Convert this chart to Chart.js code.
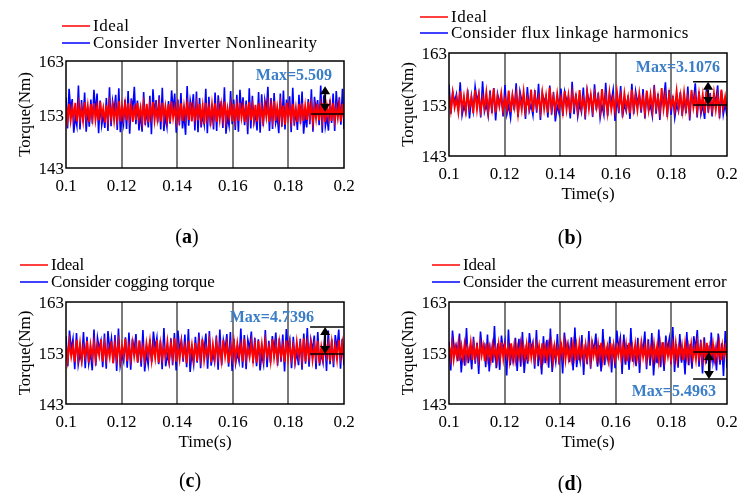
<!DOCTYPE html>
<html lang="en">
<head>
<meta charset="UTF-8">
<title>Torque comparison</title>
<script src="https://cdn.jsdelivr.net/npm/chart.js@4.4.1/dist/chart.umd.min.js"></script>
<style>
    body { margin: 0; background: #fff; }
    #fig { position: relative; width: 746px; height: 493px; }
    canvas { position: absolute; left: 0; top: 0; }
    .tag { position: absolute; font: 20px 'Liberation Serif', serif; transform: translate(-50%, -50%); color: #000; }
</style>
</head>
<body>
<div id="fig">
    <canvas id="chartA" width="746" height="493"></canvas>
    <canvas id="chartB" width="746" height="493"></canvas>
    <canvas id="chartC" width="746" height="493"></canvas>
    <canvas id="chartD" width="746" height="493"></canvas>
    <div class="tag" style="left:187px;top:236px">(<b>a</b>)</div>
    <div class="tag" style="left:570px;top:237px">(<b>b</b>)</div>
    <div class="tag" style="left:190px;top:480px">(<b>c</b>)</div>
    <div class="tag" style="left:570px;top:483px">(<b>d</b>)</div>
</div>
<script>
const timeStart = 0.1
const timeEnd = 0.2
const xTicks = [0.1, 0.12, 0.14, 0.16, 0.18, 0.2]
const xTickLabels = ['0.1', '0.12', '0.14', '0.16', '0.18', '0.2']
const yTicks = [143, 153, 163]
const yTickLabels = ['143', '153', '163']

const idealLabel = 'Ideal'
const otherLabels = ['Consider Inverter Nonlinearity', 'Consider flux linkage harmonics', 'Consider cogging torque', 'Consider the current measurement error']
const maxLabels = ['Max=5.509', 'Max=3.1076', 'Max=4.7396', 'Max=5.4963']

// (a) inverter nonlinearity
const idealA = [
154.6,152.1,155.0,151.9,154.3,152.4,155.2,151.7,154.8,152.2,
154.1,151.8,155.3,152.5,154.7,151.6,154.9,152.3,155.1,152.0,
154.4,151.9,155.4,152.6,154.2,151.5,154.8,152.1,155.0,152.4,
154.6,151.8,154.3,152.2,155.5,151.7,154.7,152.5,154.9,151.9,
155.1,152.3,154.5,151.6,154.8,152.0,155.2,152.4,154.3,151.8,
154.9,152.2,155.0,151.5,154.6,152.6,155.3,151.9,154.4,152.1,
154.8,151.7,155.2,152.3,154.5,152.0,154.9,151.6,155.4,152.4,
154.2,151.9,154.7,152.2,155.1,151.8,154.6,152.5,154.9,152.0,
155.3,151.7,154.4,152.3,154.8,151.9,155.0,152.1,154.6,151.2,
155.2,152.4,154.3,151.8,154.9,152.2,155.1,151.6,154.5,152.0,
154.8,152.3,155.4,151.9,154.2,152.5,154.7,151.7,155.0,152.1,
154.6,151.8,155.2,152.4,154.4,151.6,154.9,152.2,155.3,151.9,
154.5,152.0,154.8,151.7,155.1,152.3,154.3,151.9,154.7,152.5,
155.0,151.6,154.6,152.1,155.5,151.8,154.4,152.2,154.9,152.0,
154.7,151.1,155.2,152.4,154.5,151.9,155.0,152.1,154.3,151.6,
154.9,152.3,155.1,151.8,154.6,152.0,155.3,152.5,154.8,151.7,
154.4,152.2,155.0,151.9,154.7,152.1,155.2,151.6,154.5,152.4,
154.9,151.8,155.1,152.0,154.3,152.3,154.8,151.7,155.0,152.2]
const inverterA = [
156.2,150.4,157.8,153.8,155.9,149.6,152.6,150.9,158.4,150.2,
155.7,151.5,157.1,149.8,154.1,150.7,155.8,151.3,157.6,153.2,
156.9,149.5,155.6,151.0,153.0,150.5,156.1,149.9,158.1,150.8,
155.5,153.6,156.7,150.1,157.9,149.7,152.8,151.1,155.8,150.3,
157.4,149.4,156.0,153.9,158.2,151.2,155.6,150.0,153.4,149.8,
157.2,151.0,154.0,150.6,156.5,149.3,157.7,152.9,155.7,151.5,
156.6,150.2,158.0,149.9,152.7,150.7,155.5,151.3,157.5,153.5,
156.9,149.6,155.8,151.0,157.0,150.4,153.1,149.2,158.3,150.9,
155.6,153.7,156.8,150.0,157.3,149.7,156.1,150.6,152.9,151.1,
157.8,149.5,156.3,150.8,154.2,150.2,157.1,149.9,156.6,153.4,
155.5,150.5,158.1,149.4,152.6,150.9,157.4,151.2,155.8,150.1,
156.7,149.8,157.6,153.3,156.2,151.0,155.6,149.3,157.9,150.4,
156.5,151.5,153.2,150.0,157.2,149.6,156.8,150.8,155.7,153.8,
158.2,149.9,156.1,150.3,157.0,151.4,152.8,149.5,156.9,150.7,
157.5,150.2,155.8,153.1,156.4,149.7,158.0,150.9,154.0,150.1,
156.7,151.3,157.3,149.4,153.0,150.6,155.9,151.2,157.7,149.8,
156.3,153.6,155.7,151.0,158.4,149.6,156.6,150.8,152.7,150.0,
155.8,151.4,156.9,149.9,157.4,153.2,156.2,151.1,157.8,150.3]

// (b) flux linkage harmonics
const idealB = [
154.8,151.9,155.3,152.4,154.2,151.5,155.6,152.1,154.6,151.8,
155.1,152.5,154.4,151.3,155.8,152.0,154.9,151.7,154.3,152.3,
155.4,151.6,154.7,152.2,156.1,151.4,154.5,152.6,155.2,151.9,
154.1,152.1,155.7,151.5,154.8,152.4,155.0,151.2,154.6,152.0,
155.5,151.8,154.2,152.3,155.9,151.6,154.9,152.5,154.4,151.7,
155.3,152.1,154.7,151.4,156.3,152.2,154.5,151.9,155.1,152.4,
154.3,151.6,155.6,152.0,154.8,151.3,155.2,152.6,154.6,151.8,
155.8,152.2,154.1,151.5,155.4,152.1,154.9,151.9,155.0,152.4,
154.5,151.7,156.0,152.3,154.7,151.4,155.3,152.0,154.2,151.8,
155.5,152.5,154.8,151.6,155.1,152.2,154.4,151.3,155.9,152.1,
154.6,151.9,155.2,152.4,154.3,151.5,155.7,152.0,154.9,151.8,
155.4,152.3,154.5,151.6,156.2,152.1,154.7,151.4,155.0,152.5,
154.2,151.9,155.6,152.2,154.8,151.7,155.3,152.0,154.4,151.5,
155.8,152.4,154.6,151.8,155.1,152.1,154.9,151.3,155.5,152.3,
154.3,151.9,155.2,152.0,154.7,151.6,155.9,152.4,154.5,151.8]
const fluxB = [
156.9,151.2,155.4,153.5,155.0,151.7,157.3,150.9,152.8,151.4,
155.9,150.3,154.6,151.8,156.5,153.6,155.2,150.5,157.5,151.6,
153.1,150.8,155.7,151.3,156.2,149.9,155.1,153.4,154.5,150.7,
156.8,151.1,152.9,150.4,154.7,151.9,157.1,150.6,155.6,153.7,
154.4,150.2,156.4,151.7,153.0,150.9,155.8,151.4,157.0,150.0,
155.2,153.5,154.6,150.5,156.7,151.0,155.4,149.7,152.8,151.3,
156.1,150.8,155.5,153.8,154.3,150.3,157.4,151.1,155.1,150.7,
153.2,151.5,156.3,150.1,155.7,153.4,154.5,150.6,156.9,151.9,
155.3,150.4,152.9,151.0,157.2,150.8,155.0,153.6,155.9,149.8,
154.4,151.3,156.6,150.5,153.1,151.7,154.8,150.2,157.0,151.1,
155.6,153.5,154.6,151.4,156.0,150.3,155.3,151.8,152.8,150.7,
156.8,151.2,155.1,150.0,154.5,153.7,157.3,150.6,155.8,151.0,
154.7,150.4,153.0,151.7,155.4,150.8,154.3,151.3,156.5,149.9,
155.0,153.4,157.1,150.5,155.5,151.1,152.9,150.2,156.0,151.4,
155.2,150.7,154.8,153.6,156.7,150.3,155.6,151.0,153.1,150.8]

// (c) cogging torque
const idealC = [
154.7,151.6,155.2,152.3,154.3,151.2,155.6,152.0,154.9,151.5,
154.1,152.4,155.4,151.1,154.6,152.1,155.0,151.7,154.4,152.5,
155.7,151.3,154.8,151.9,154.2,152.2,155.3,151.0,154.7,152.0,
155.1,151.6,154.5,152.4,155.8,151.4,154.3,151.8,155.0,152.3,
154.6,151.2,155.5,152.1,154.1,151.7,154.9,152.5,155.3,151.5,
154.4,152.0,155.6,151.1,154.8,151.9,154.2,152.3,155.2,151.6,
154.7,152.1,155.9,151.3,154.5,151.8,155.1,152.4,154.3,151.0,
155.4,152.2,154.6,151.7,155.0,151.4,154.9,152.0,155.7,151.6,
154.2,152.5,155.3,151.2,154.7,151.9,155.1,152.1,154.4,151.5,
155.6,152.3,154.8,151.0,154.3,152.0,155.2,151.7,154.9,152.4,
154.5,151.3,155.8,151.9,154.1,152.2,155.0,151.6,154.6,151.1,
155.4,152.0,154.8,151.8,155.3,152.5,154.2,151.4,155.7,152.1,
154.7,151.7,155.1,152.3,154.4,151.2,155.5,151.9,154.9,152.0,
154.3,151.5,155.2,152.4,154.6,151.8,155.9,151.3,154.8,152.2,
155.0,151.6,154.5,152.1,155.4,151.0,154.2,151.9,155.3,152.5,
154.7,151.4,155.1,152.0,154.4,151.7,155.6,152.3,154.9,151.5]
const coggingC = [
156.3,150.4,157.4,153.6,155.8,149.8,156.9,150.7,152.9,151.3,
157.1,150.0,156.2,150.9,153.2,149.6,157.6,150.5,156.0,153.8,
155.4,150.2,156.8,149.9,157.3,153.5,155.9,151.0,156.5,149.5,
157.8,150.6,152.8,151.3,156.1,150.1,157.0,149.7,155.8,153.4,
156.7,151.1,155.3,150.3,157.5,149.4,153.0,150.7,155.7,151.2,
157.2,153.7,156.0,150.8,155.5,149.8,157.9,150.4,152.7,151.0,
155.9,150.6,156.9,149.6,157.4,153.3,155.6,151.3,156.6,150.2,
157.7,149.3,153.1,150.7,156.2,151.1,157.0,150.0,155.4,153.6,
156.8,149.9,157.3,150.5,152.9,151.2,156.4,149.7,157.6,150.6,
155.5,153.5,156.7,150.3,157.1,149.5,155.8,150.9,153.0,151.3,
157.8,150.1,156.5,149.8,155.6,153.8,157.2,151.0,156.0,150.4,
155.7,149.6,152.8,150.8,157.5,150.2,155.4,151.1,156.3,153.4,
157.0,150.5,155.9,151.3,156.6,149.4,157.7,153.6,155.5,150.0,
156.2,151.0,153.2,150.6,155.8,149.7,156.8,150.9,157.9,150.3,
155.6,153.5,156.4,149.8,157.1,150.5,152.9,151.1,156.7,149.5,
157.4,150.8,155.7,150.2,156.5,153.7,157.6,149.9,155.8,150.6]

// (d) current measurement error
const idealD = [
154.4,152.0,154.8,151.7,154.1,152.3,154.9,151.5,154.3,152.1,
154.7,151.8,154.0,152.4,155.0,151.6,154.5,152.2,154.2,151.9,
154.8,152.5,154.3,151.4,154.9,152.0,154.1,151.8,154.6,152.3,
154.0,151.6,154.7,152.1,155.1,151.9,154.4,152.4,154.2,151.5,
154.9,152.0,154.5,151.7,154.1,152.3,154.8,151.9,154.3,152.2,
154.6,151.4,155.0,152.1,154.2,151.8,154.7,152.5,154.4,151.6,
154.9,152.0,154.1,151.9,154.5,152.3,154.8,151.5,154.3,152.1,
154.0,151.8,154.7,152.4,155.1,151.7,154.4,152.0,154.2,151.9,
154.8,152.2,154.5,151.6,154.9,152.3,154.1,151.8,154.6,152.0,
154.3,151.5,154.8,152.4,154.0,151.9,154.7,152.1,155.0,151.7,
154.4,152.2,154.2,151.6,154.9,152.0,154.5,151.8,154.1,152.5,
154.8,151.9,154.3,152.1,154.6,151.4,155.0,152.3,154.2,151.7,
154.7,152.0,154.4,151.9,154.9,152.2,154.1,151.6,154.5,152.4,
154.0,151.8,154.8,152.1,154.3,151.5,154.7,152.0,155.1,151.9,
154.4,152.3,154.2,151.7,154.6,152.0,154.9,151.8,154.1,152.4,
154.5,151.6,154.8,152.2,154.3,151.9,154.7,152.1,154.0,151.7,
154.9,152.3,154.4,151.8,154.6,152.0,155.0,151.5,154.2,152.2,
154.7,151.9,154.3,152.1,154.8,151.6,154.5,152.4,154.1,151.8]
const currentD = [
155.2,149.6,157.4,153.6,154.6,151.4,156.8,149.2,153.5,150.5,
157.9,151.0,153.8,149.8,156.2,150.9,155.0,148.9,157.2,153.5,
154.5,150.2,156.6,149.4,153.7,151.1,158.3,150.0,154.9,149.7,
156.4,153.4,155.3,148.6,157.6,150.6,153.6,151.5,156.0,149.5,
155.8,150.3,157.1,149.1,153.4,150.9,156.9,153.7,155.1,149.9,
157.5,150.4,153.8,148.8,156.3,151.0,155.6,150.1,157.8,149.3,
153.6,151.3,156.7,150.7,155.2,149.0,157.0,153.5,154.9,151.2,
156.1,149.6,158.0,150.2,153.4,151.4,156.5,148.7,154.7,150.8,
157.3,149.9,155.0,153.6,156.8,150.3,154.5,149.4,157.7,150.6,
153.5,151.5,156.2,149.2,154.8,150.0,157.4,153.8,155.9,148.9,
156.6,150.7,154.6,149.7,157.9,151.3,153.7,150.4,156.0,149.1,
154.9,153.4,157.2,149.8,155.7,150.5,156.9,148.6,153.6,151.0,
157.6,150.2,155.1,149.5,156.4,153.5,155.8,150.8,158.1,149.3,
154.7,150.1,156.7,151.1,153.8,148.8,157.1,150.6,154.8,149.9,
156.3,153.6,157.5,150.3,155.6,149.0,156.1,150.9,154.5,148.4,
157.0,151.2,153.5,149.6,156.8,150.7,154.9,148.5,157.3,150.0]

// layout of each panel in page pixels; marks are in data units
const panels = [
    {id: 'chartA', ideal: idealA, other: inverterA, area: [66, 344, 61, 168], xTitle: false,
     legend: [62, 26, 43], spacing: 0.5,
     mark: {text: [0.1957, 160.2], arrowX: 0.1932, arrow: [158.3, 153.5], lineX: 0.1881, lines: [153.1]}},
    {id: 'chartB', ideal: idealB, other: fluxB, area: [449, 727, 53, 156], xTitle: true,
     legend: [420, 17, 33], spacing: 0.5,
     mark: {text: [0.1975, 160.1], arrowX: 0.1932, arrow: [157.4, 152.9], lineX: 0.1878, lines: [157.4, 152.9]}},
    {id: 'chartC', ideal: idealC, other: coggingC, area: [66, 344, 302, 404], xTitle: true,
     legend: [20, 265, 282], spacing: -0.2,
     mark: {text: [0.1892, 159.9], arrowX: 0.1932, arrow: [158.1, 152.8], lineX: 0.1878, lines: [158.1, 152.8]}},
    {id: 'chartD', ideal: idealD, other: currentD, area: [449, 727, 302, 404], xTitle: true,
     legend: [432, 265, 282], spacing: -0.2,
     mark: {text: [0.1960, 145.4], arrowX: 0.1935, arrow: [153.2, 147.9], lineX: 0.1878, lines: [153.2, 147.9]}}
]
panels.forEach((p, k) => { p.maxText = maxLabels[k] })

const FONT = "'Liberation Serif', 'Times New Roman', serif"
Chart.defaults.font.family = FONT
Chart.defaults.color = '#000'

function toPoints(values) {
    const step = (timeEnd - timeStart) / (values.length - 1)
    return values.map((v, i) => ({x: timeStart + i * step, y: v}))
}

function drawArrow(ctx, x, y1, y2) {
    const h = 8, w = 5
    ctx.lineWidth = 2
    ctx.beginPath(); ctx.moveTo(x, y1 + h); ctx.lineTo(x, y2 - h); ctx.stroke()
    ctx.beginPath(); ctx.moveTo(x, y1); ctx.lineTo(x - w, y1 + h); ctx.lineTo(x + w, y1 + h); ctx.closePath(); ctx.fill()
    ctx.beginPath(); ctx.moveTo(x, y2); ctx.lineTo(x - w, y2 - h); ctx.lineTo(x + w, y2 - h); ctx.closePath(); ctx.fill()
}

const decorPlugin = {
    id: 'decor',
    afterDatasetsDraw(chart) {
        const p = panels.find(q => q.id === chart.canvas.id)
        const {ctx, chartArea: a} = chart
        const x = chart.scales.x, y = chart.scales.y
        ctx.save()
        ctx.strokeStyle = '#000'
        ctx.fillStyle = '#000'
        ctx.lineWidth = 1.5
        ctx.strokeRect(a.left, a.top, a.right - a.left, a.bottom - a.top)

        const m = p.mark
        m.lines.forEach(v => {
            ctx.beginPath()
            ctx.moveTo(x.getPixelForValue(m.lineX), y.getPixelForValue(v))
            ctx.lineTo(a.right, y.getPixelForValue(v))
            ctx.stroke()
        })
        drawArrow(ctx, x.getPixelForValue(m.arrowX), y.getPixelForValue(m.arrow[0]), y.getPixelForValue(m.arrow[1]))

        ctx.fillStyle = '#3a7ec8'
        ctx.font = 'bold 16px ' + FONT
        ctx.textAlign = 'right'
        ctx.textBaseline = 'middle'
        ctx.fillText(p.maxText, x.getPixelForValue(m.text[0]), y.getPixelForValue(m.text[1]))

        // legend
        const [lx, ry, by] = p.legend
        ctx.lineWidth = 1.5
        ctx.font = '17px ' + FONT
        ctx.textAlign = 'left'
        ctx.letterSpacing = p.spacing + 'px'
        chart.data.datasets.forEach((ds, i) => {
            const ly = i === 0 ? ry : by
            ctx.strokeStyle = ds.borderColor
            ctx.beginPath(); ctx.moveTo(lx, ly); ctx.lineTo(lx + 28, ly); ctx.stroke()
            ctx.fillStyle = '#000'
            ctx.fillText(ds.label, lx + 31, ly + 1)
        })
        ctx.restore()
    }
}

panels.forEach((p, k) => {
    const [left, right, top, bottom] = p.area
    const yW = 60
    const xH = p.xTitle ? 49 : 30
    new Chart(document.getElementById(p.id), {
        type: 'line',
        data: {
            datasets: [
                {label: idealLabel, data: toPoints(p.ideal), borderColor: '#ff0000', borderWidth: 1.9},
                {label: otherLabels[k], data: toPoints(p.other), borderColor: '#0000ff', borderWidth: 1.6}
            ]
        },
        options: {
            responsive: false,
            animation: false,
            events: [],
            elements: {point: {radius: 0}, line: {tension: 0}},
            layout: {padding: {left: left - yW, right: 746 - right, top: top, bottom: 493 - bottom - xH}},
            plugins: {legend: {display: false}, tooltip: {enabled: false}},
            scales: {
                x: {
                    type: 'linear', min: timeStart, max: timeEnd,
                    afterBuildTicks: s => { s.ticks = xTicks.map(v => ({value: v})) },
                    afterFit: s => { s.height = xH },
                    ticks: {font: {size: 17}, padding: 8, maxRotation: 0, callback: (v, i) => xTickLabels[i]},
                    grid: {drawTicks: false, lineWidth: 2, color: c => (c.index === 0 || c.index === xTicks.length - 1) ? 'rgba(0,0,0,0)' : '#7a7a7a'},
                    border: {display: false},
                    title: {display: p.xTitle, text: 'Time(s)', font: {size: 17}, padding: 0}
                },
                y: {
                    min: 143, max: 163,
                    afterBuildTicks: s => { s.ticks = yTicks.map(v => ({value: v})) },
                    afterFit: s => { s.width = yW },
                    ticks: {font: {size: 17}, padding: 2, labelOffset: 2, callback: (v, i) => yTickLabels[i]},
                    grid: {display: false, drawTicks: false},
                    border: {display: false},
                    title: {display: true, text: 'Torque(Nm)', font: {size: 17}, padding: {top: 9, bottom: 0}}
                }
            }
        },
        plugins: [decorPlugin]
    })
})
</script>
</body>
</html>
